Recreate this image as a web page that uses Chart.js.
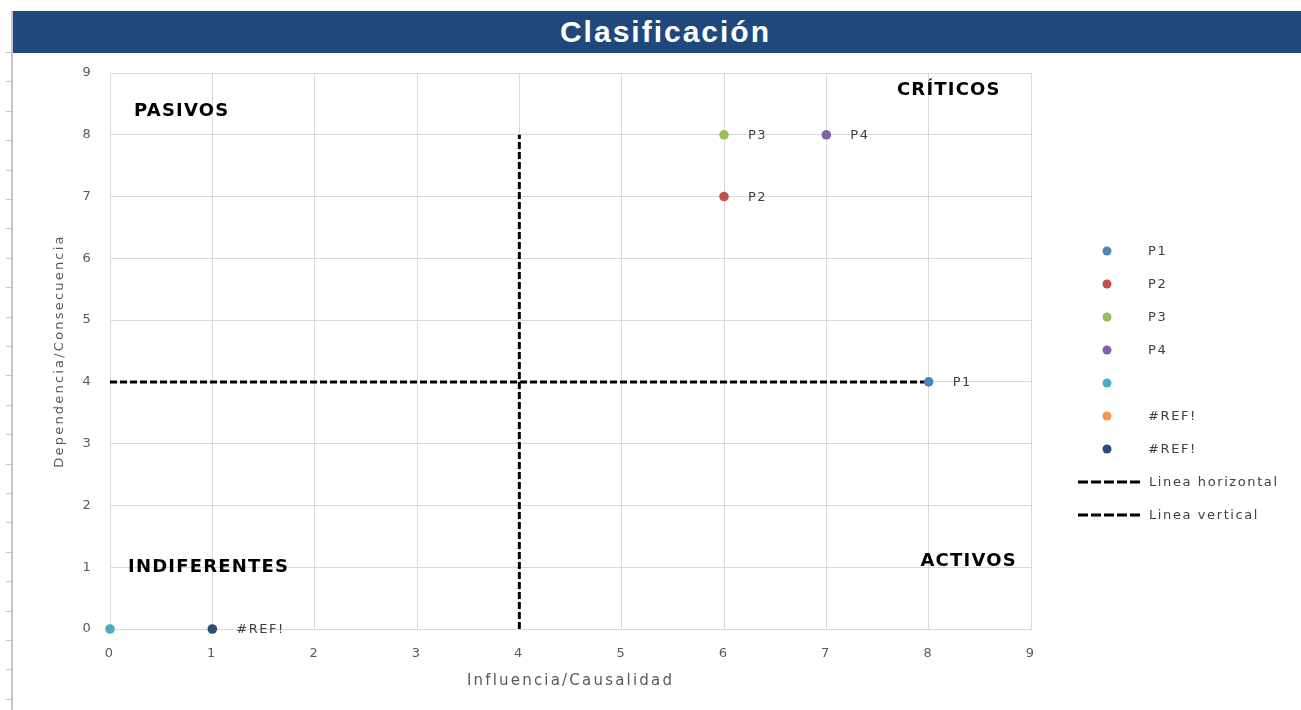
<!DOCTYPE html>
<html lang="es">

<head>
    <meta charset="UTF-8">
    <title>Clasificación</title>
    <script src="https://cdn.jsdelivr.net/npm/chart.js"></script>
    <style>
        html, body { margin: 0; padding: 0; background: #fff; }
        body { width: 1301px; height: 710px; position: relative; overflow: hidden; }
        .borde-hoja {
            position: absolute; left: 11px; top: 11px; width: 2px; height: 699px; background: #c6c6c6;
        }
        .marcas-hoja {
            position: absolute; left: 6px; top: 52px; width: 5px; height: 658px;
            background: repeating-linear-gradient(to bottom, #c6c6c6 0px, #c6c6c6 1px, transparent 1px, transparent 29.4px);
        }
        .titulo {
            position: absolute; left: 13px; top: 11px; right: 0; height: 42px;
            background: #1f497d; color: #fff; z-index: 2;
            font: bold 30px "Liberation Sans", Arial, sans-serif; letter-spacing: 2px;
            line-height: 42px; text-align: center; padding-left: 17px; box-sizing: border-box;
        }
        .grafica-container { position: absolute; left: 0; top: 0; width: 1301px; height: 710px; }
    </style>
</head>

<body>
    <div class="borde-hoja"></div>
    <div class="marcas-hoja"></div>
    <div class="titulo">Clasificación</div>
    <div class="grafica-container">
        <canvas id="graficaClasificacion"></canvas>
    </div>
    <script>
        // --- Datos ---
        const nombresSeries = ['P1', 'P2', 'P3', 'P4', '', '#REF!', '#REF!'];
        const influencia = [8, 6, 6, 7, 0, null, 1];
        const dependencia = [4, 7, 8, 8, 0, null, 0];
        const etiquetasPuntos = ['P1', 'P2', 'P3', 'P4', '', '', '#REF!'];
        const coloresSeries = ['#4f81bd', '#c0504d', '#9bbb59', '#8064a2', '#4bacc6', '#f79646', '#2c4d75'];

        const lineaHorizontalX = [0, 8];
        const lineaHorizontalY = [4, 4];
        const lineaVerticalX = [4, 4];
        const lineaVerticalY = [0, 8];

        const cuadrantes = [
            { texto: 'PASIVOS', x: 0.235, y: 8.38 },
            { texto: 'CRÍTICOS', x: 7.69, y: 8.72 },
            { texto: 'INDIFERENTES', x: 0.176, y: 1.0 },
            { texto: 'ACTIVOS', x: 7.92, y: 1.1 }
        ];

        const ejeMin = 0;
        const ejeMax = 9;

        // --- Datasets ---
        const datasets = nombresSeries.map((nombre, i) => ({
            label: nombre,
            data: influencia[i] === null ? [] : [{ x: influencia[i], y: dependencia[i] }],
            etiqueta: etiquetasPuntos[i],
            backgroundColor: coloresSeries[i],
            borderColor: coloresSeries[i],
            pointRadius: 4.8,
            pointBorderWidth: 0,
            clip: false
        }));
        datasets.push({
            label: 'Linea horizontal',
            data: lineaHorizontalX.map((x, i) => ({ x: x, y: lineaHorizontalY[i] })),
            showLine: true,
            borderColor: '#000',
            borderWidth: 3,
            borderDash: [7, 3],
            pointRadius: 0,
            esLinea: true
        });
        datasets.push({
            label: 'Linea vertical',
            data: lineaVerticalX.map((x, i) => ({ x: x, y: lineaVerticalY[i] })),
            showLine: true,
            borderColor: '#000',
            borderWidth: 3,
            borderDash: [7, 3],
            pointRadius: 0,
            esLinea: true
        });

        // --- Plugins propios ---
        const espaciado = {
            id: 'espaciado',
            beforeDraw(chart) { chart.ctx.letterSpacing = '2.2px'; }
        };

        const etiquetas = {
            id: 'etiquetas',
            afterDatasetsDraw(chart) {
                const ctx = chart.ctx;
                ctx.save();
                ctx.font = '13px "DejaVu Sans"';
                ctx.letterSpacing = '1.5px';
                ctx.fillStyle = '#404040';
                ctx.textAlign = 'left';
                ctx.textBaseline = 'middle';
                chart.data.datasets.forEach((ds, i) => {
                    if (!ds.etiqueta) return;
                    chart.getDatasetMeta(i).data.forEach(pt => {
                        ctx.fillText(ds.etiqueta, pt.x + 24, pt.y + 1);
                    });
                });
                // textos de cuadrantes
                const sx = chart.scales.x, sy = chart.scales.y;
                ctx.font = 'bold 18px "DejaVu Sans"';
                ctx.letterSpacing = '1.2px';
                ctx.fillStyle = '#000';
                cuadrantes.forEach(c => {
                    ctx.fillText(c.texto, sx.getPixelForValue(c.x), sy.getPixelForValue(c.y));
                });
                ctx.restore();
            }
        };

        const leyenda = {
            id: 'leyenda',
            afterDraw(chart) {
                const ctx = chart.ctx;
                const marcaX = 1107, textoX = 1148, lineaIni = 1078, lineaFin = 1142;
                const filaIni = 251, filaPaso = 33;
                ctx.save();
                ctx.font = '13px "DejaVu Sans"';
                ctx.letterSpacing = '1.6px';
                ctx.textAlign = 'left';
                ctx.textBaseline = 'middle';
                chart.data.datasets.forEach((ds, i) => {
                    const y = filaIni + i * filaPaso;
                    if (ds.esLinea) {
                        ctx.strokeStyle = ds.borderColor;
                        ctx.lineWidth = 3;
                        ctx.setLineDash([10, 3]);
                        ctx.beginPath();
                        ctx.moveTo(lineaIni, y);
                        ctx.lineTo(lineaFin, y);
                        ctx.stroke();
                        ctx.setLineDash([]);
                    } else {
                        ctx.fillStyle = ds.backgroundColor;
                        ctx.beginPath();
                        ctx.arc(marcaX, y, 4.5, 0, Math.PI * 2);
                        ctx.fill();
                    }
                    ctx.fillStyle = '#404040';
                    ctx.fillText(ds.label, textoX + (ds.esLinea ? 1 : 0), y + 1);
                });
                ctx.restore();
            }
        };

        // --- Gráfica ---
        const fuenteEje = { family: '"DejaVu Sans"', size: 13 };
        new Chart(document.getElementById('graficaClasificacion'), {
            type: 'scatter',
            data: { datasets: datasets },
            options: {
                responsive: true,
                maintainAspectRatio: false,
                animation: false,
                layout: { padding: { top: 73, right: 270, left: 0, bottom: 0 } },
                plugins: {
                    legend: { display: false },
                    title: { display: false },
                    tooltip: { enabled: false }
                },
                scales: {
                    x: {
                        min: ejeMin, max: ejeMax,
                        ticks: { stepSize: 1, padding: 17, color: '#595959', font: fuenteEje },
                        grid: { color: '#d9d9d9', drawTicks: false },
                        border: { color: '#d9d9d9' },
                        title: {
                            display: true, text: 'Influencia/Causalidad', color: '#595959',
                            font: { family: '"DejaVu Sans"', size: 15 }, padding: { top: 0, bottom: 20 }
                        },
                        afterFit(s) { s.height = 81; }
                    },
                    y: {
                        min: ejeMin, max: ejeMax,
                        ticks: { stepSize: 1, padding: 17, color: '#595959', font: fuenteEje },
                        grid: { color: '#d9d9d9', drawTicks: false },
                        border: { color: '#d9d9d9' },
                        title: {
                            display: true, text: 'Dependencia/Consecuencia', color: '#595959',
                            font: { family: '"DejaVu Sans"', size: 13 }, padding: { top: 52, bottom: 0 }
                        },
                        afterFit(s) { s.width = 110; }
                    }
                }
            },
            plugins: [espaciado, etiquetas, leyenda]
        });
    </script>
</body>

</html>
